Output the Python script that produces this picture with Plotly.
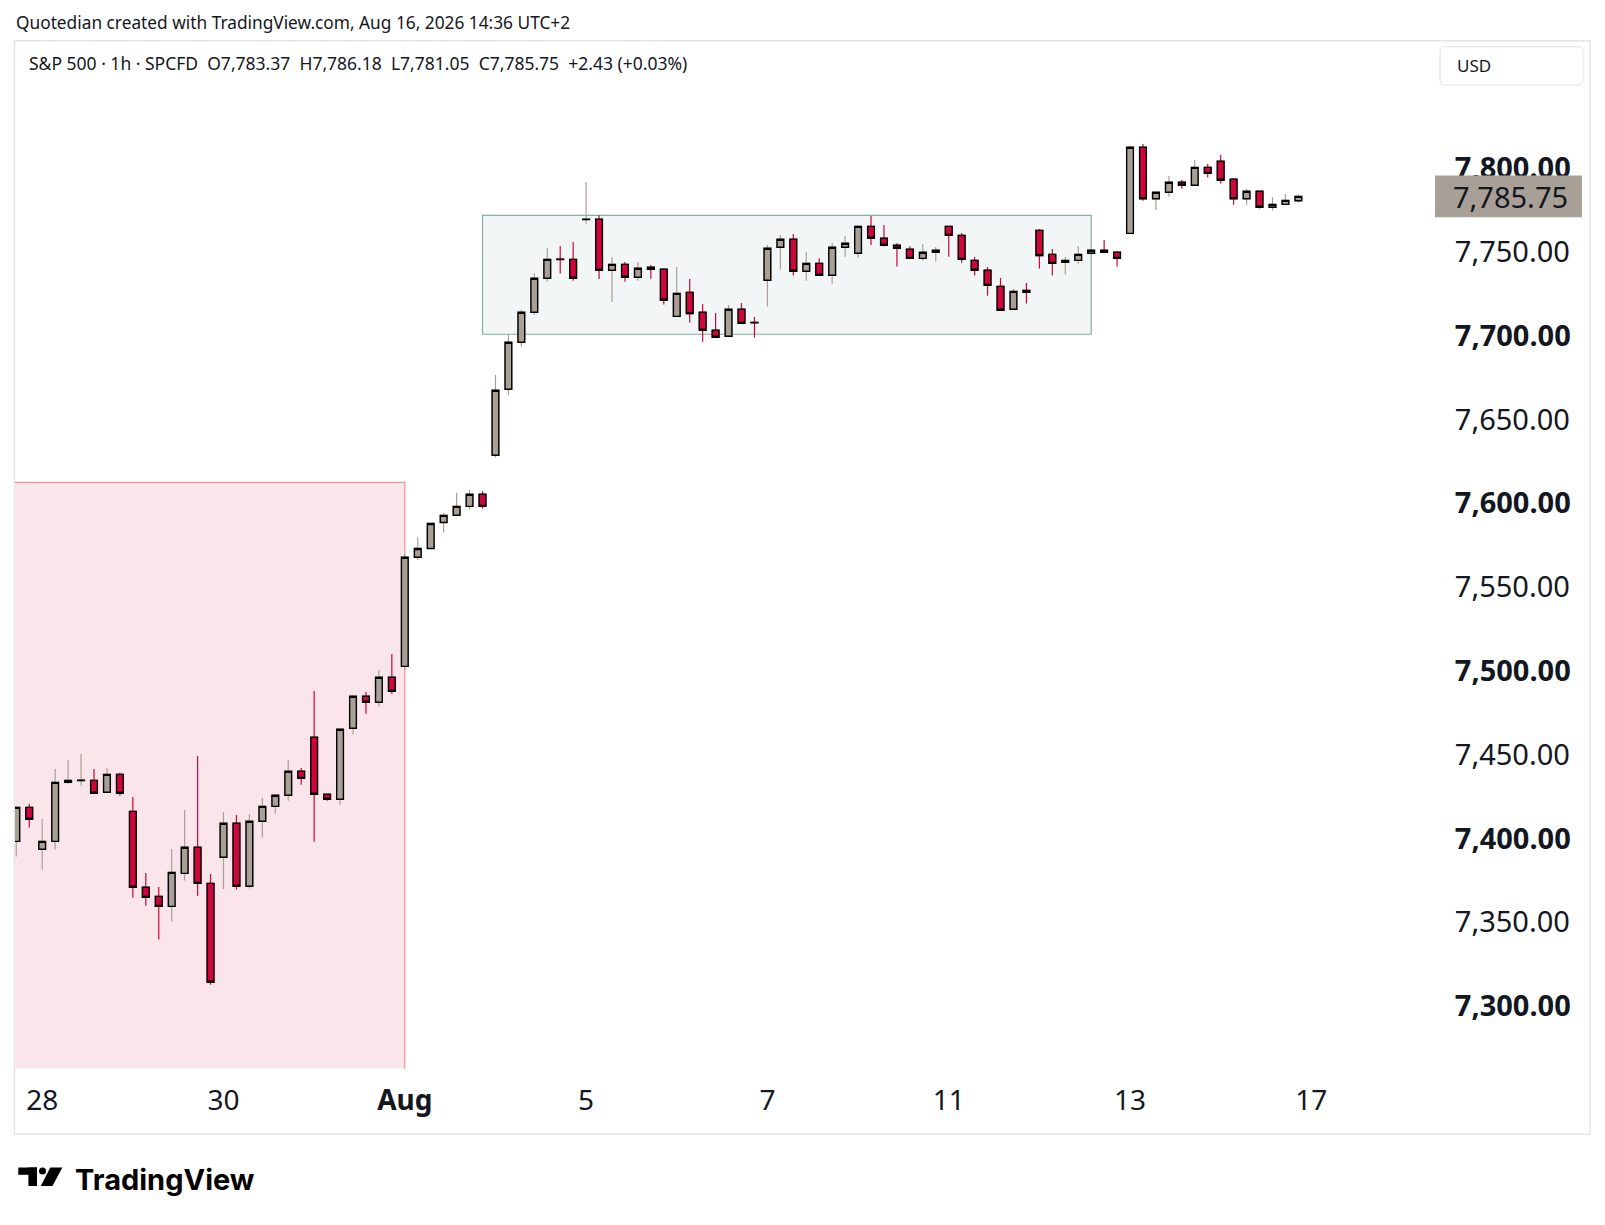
import plotly.graph_objects as go

W, H = 1605, 1225

# S&P 500 1h bars (cash session, 7 bars a day): last two of Jul 27, then Jul 28 .. Aug 14
bar_open = [
    7398.2, 7418.5,
    7393.5, 7398.2, 7433.4, 7434.5, 7434.6, 7427.5, 7438.2,
    7416.1, 7370.8, 7365.4, 7359.4, 7379.1, 7394.7, 7373.1,
    7388.7, 7409.0, 7371.4, 7410.2, 7419.1, 7425.7, 7440.0,
    7460.3, 7426.3, 7423.3, 7465.7, 7484.8, 7481.2, 7496.1,
    7502.6, 7567.7, 7573.0, 7588.5, 7592.8, 7598.1, 7605.3,
    7628.6, 7668.0, 7696.0, 7713.9, 7734.2, 7745.6, 7745.5,
    7769.3, 7769.4, 7739.0, 7742.5, 7734.8, 7740.8, 7739.6,
    7711.5, 7725.8, 7713.9, 7703.2, 7699.6, 7715.7, 7707.9,
    7733.0, 7752.7, 7757.5, 7738.4, 7743.1, 7736.0, 7752.7,
    7749.1, 7765.2, 7758.1, 7753.9, 7751.5, 7746.1, 7749.7,
    7765.2, 7759.8, 7744.9, 7739.0, 7729.4, 7715.7, 7727.0,
    7762.8, 7748.5, 7743.7, 7744.9, 7749.1, 7750.9, 7749.7,
    7761.0, 7812.4, 7781.7, 7785.5, 7791.5, 7789.7, 7800.4,
    7804.0, 7793.3, 7781.7, 7786.1, 7776.6, 7778.3, 7780.5,
]
bar_high = [
    7419.3, 7420.5,
    7411.6, 7441.4, 7446.8, 7450.3, 7441.4, 7442.0, 7439.2,
    7424.7, 7379.3, 7371.0, 7393.7, 7416.9, 7449.2, 7378.7,
    7415.7, 7413.9, 7414.5, 7424.1, 7426.5, 7446.8, 7442.0,
    7487.9, 7426.3, 7465.9, 7485.6, 7487.3, 7500.5, 7510.0,
    7570.0, 7579.7, 7588.2, 7594.1, 7606.3, 7607.9, 7607.3,
    7676.5, 7701.0, 7715.3, 7737.4, 7752.3, 7753.5, 7755.9,
    7791.7, 7771.8, 7746.9, 7743.9, 7743.9, 7742.1, 7740.4,
    7741.0, 7733.8, 7718.9, 7713.5, 7718.3, 7719.5, 7711.1,
    7754.1, 7760.0, 7760.6, 7749.9, 7746.1, 7755.3, 7759.4,
    7766.0, 7771.4, 7766.0, 7755.1, 7753.3, 7754.7, 7752.9,
    7765.2, 7761.2, 7746.9, 7741.0, 7734.4, 7727.8, 7731.4,
    7763.6, 7751.7, 7746.9, 7753.5, 7750.9, 7757.1, 7750.5,
    7813.4, 7814.3, 7785.5, 7795.3, 7792.9, 7804.8, 7802.4,
    7807.8, 7794.1, 7787.5, 7786.1, 7782.7, 7784.5, 7784.2,
]
bar_low = [
    7389.1, 7406.4,
    7381.3, 7393.3, 7432.4, 7431.4, 7426.9, 7427.5, 7425.5,
    7364.6, 7359.8, 7339.6, 7350.3, 7374.8, 7365.8, 7312.7,
    7369.8, 7369.4, 7370.0, 7400.4, 7414.7, 7422.5, 7432.0,
    7398.0, 7422.5, 7420.1, 7461.9, 7474.4, 7478.6, 7486.3,
    7500.5, 7566.1, 7572.8, 7582.5, 7592.8, 7596.2, 7596.7,
    7627.2, 7664.2, 7693.4, 7712.5, 7732.2, 7737.0, 7732.8,
    7766.8, 7733.8, 7720.1, 7732.2, 7732.8, 7734.0, 7718.5,
    7711.5, 7707.7, 7696.4, 7699.0, 7699.6, 7707.3, 7698.8,
    7717.3, 7739.4, 7735.8, 7732.8, 7736.0, 7731.0, 7747.1,
    7746.5, 7754.1, 7753.1, 7741.2, 7746.1, 7744.7, 7744.1,
    7747.1, 7743.5, 7735.8, 7723.8, 7715.1, 7715.7, 7719.1,
    7740.0, 7735.8, 7736.4, 7742.9, 7749.1, 7749.1, 7741.2,
    7761.0, 7780.5, 7775.0, 7782.9, 7787.7, 7789.7, 7794.3,
    7790.7, 7778.1, 7778.1, 7775.8, 7774.6, 7778.3, 7779.3,
]
bar_close = [
    7418.5, 7411.4,
    7398.2, 7433.4, 7434.6, 7434.7, 7426.9, 7438.2, 7426.9,
    7370.8, 7364.8, 7359.4, 7379.7, 7394.7, 7373.1, 7314.1,
    7409.0, 7371.4, 7410.2, 7419.1, 7425.7, 7440.0, 7435.8,
    7426.3, 7423.3, 7465.1, 7484.8, 7481.2, 7496.1, 7487.7,
    7567.7, 7573.0, 7587.9, 7592.7, 7598.1, 7605.3, 7598.1,
    7667.4, 7696.0, 7713.9, 7734.2, 7745.5, 7745.4, 7734.2,
    7769.5, 7739.0, 7742.5, 7734.8, 7740.2, 7739.6, 7721.1,
    7725.2, 7713.1, 7703.2, 7699.0, 7715.7, 7707.3, 7707.7,
    7752.1, 7757.5, 7738.4, 7743.1, 7736.0, 7752.7, 7755.1,
    7765.2, 7758.1, 7753.9, 7752.1, 7746.1, 7749.7, 7750.9,
    7759.8, 7745.5, 7739.0, 7730.0, 7715.1, 7726.4, 7725.8,
    7747.7, 7743.1, 7744.9, 7748.5, 7750.9, 7749.7, 7746.1,
    7812.4, 7781.7, 7785.5, 7791.5, 7789.7, 7800.4, 7796.8,
    7792.7, 7781.7, 7786.1, 7776.6, 7778.3, 7780.7, 7783.1,
]

# day labels sit on the first bar of each day
date_ticks = [2, 16, 30, 44, 58, 72, 86, 100]
date_labels = ["28", "30", "<b>Aug</b>", "5", "7", "11", "13", "17"]

price_ticks = [7300, 7350, 7400, 7450, 7500, 7550, 7600, 7650, 7700, 7750, 7800]

# drawings on the chart
pink_zone_right = 30
pink_zone_top = 7612.4
range_box_x = [36, 83]
range_box_y = [7700.8, 7771.8]

title_text = "Quotedian created with TradingView.com, Aug 16, 2026 14:36 UTC+2"
legend_text = ("S&P 500 · 1h · SPCFD&nbsp;&nbsp;O7,783.37&nbsp;&nbsp;H7,786.18&nbsp;&nbsp;"
               "L7,781.05&nbsp;&nbsp;C7,785.75&nbsp;&nbsp;+2.43 (+0.03%)")
last_price_text = "7,785.75"

UP = "#a8a097"
DOWN = "#cf053d"
INK = "#131722"
FONT = "Noto Sans"


def px(x, y):
    return x / W, 1 - y / H


def price_label(v):
    s = f"{v:,.2f}"
    return f"<b>{s}</b>" if v % 100 == 0 else s


x = list(range(len(bar_open)))
body_top = [max(o, c) for o, c in zip(bar_open, bar_close)]
body_bot = [min(o, c) for o, c in zip(bar_open, bar_close)]

fig = go.Figure()

# wicks
fig.add_trace(go.Candlestick(
    x=x, open=bar_open, high=bar_high, low=bar_low, close=bar_close,
    increasing=dict(line=dict(color=UP, width=1.2), fillcolor=UP),
    decreasing=dict(line=dict(color=DOWN, width=1.2), fillcolor=DOWN),
    whiskerwidth=0, hoverinfo="skip",
))
# bodies with black outline
fig.add_trace(go.Candlestick(
    x=x, open=bar_open, high=body_top, low=body_bot, close=bar_close,
    increasing=dict(line=dict(color="#000000", width=1.4), fillcolor=UP),
    decreasing=dict(line=dict(color="#000000", width=1.4), fillcolor=DOWN),
    whiskerwidth=0, hoverinfo="skip",
))

shapes = []
# outer frame
fx0, fy0 = px(14.5, 40.7)
fx1, fy1 = px(1590, 1134.3)
shapes.append(dict(type="rect", xref="paper", yref="paper", x0=fx0, y0=fy1, x1=fx1, y1=fy0,
                   line=dict(color="#e4e4e4", width=1.5), fillcolor="rgba(0,0,0,0)", layer="below"))
# pink zone (left part is clipped by the plot area)
shapes.append(dict(type="rect", xref="x", yref="y", x0=-5, x1=pink_zone_right, y0=7000, y1=pink_zone_top,
                   fillcolor="#fae5ea", line=dict(color="#f0919f", width=1.2), layer="below"))
# consolidation box
shapes.append(dict(type="rect", xref="x", yref="y", x0=range_box_x[0], x1=range_box_x[1],
                   y0=range_box_y[0], y1=range_box_y[1],
                   fillcolor="#f2f6f6", line=dict(color="#84aea2", width=1.2), layer="below"))
# last price tag
lx0, _ = px(1435, 0)
lx1, _ = px(1582, 0)
shapes.append(dict(type="rect", xref="paper", yref="y", x0=lx0, x1=lx1,
                   y0=bar_close[-1] - 12.45, y1=bar_close[-1] + 12.45,
                   fillcolor=UP, line=dict(width=0), layer="above"))


# USD box with rounded corners
def rounded(x0, y0, x1, y1, r):
    a = px
    p = "M {} {} ".format(*a(x0 + r, y0))
    p += "L {} {} ".format(*a(x1 - r, y0))
    p += "Q {} {} {} {} ".format(*a(x1, y0), *a(x1, y0 + r))
    p += "L {} {} ".format(*a(x1, y1 - r))
    p += "Q {} {} {} {} ".format(*a(x1, y1), *a(x1 - r, y1))
    p += "L {} {} ".format(*a(x0 + r, y1))
    p += "Q {} {} {} {} ".format(*a(x0, y1), *a(x0, y1 - r))
    p += "L {} {} ".format(*a(x0, y0 + r))
    p += "Q {} {} {} {} Z".format(*a(x0, y0), *a(x0 + r, y0))
    return p


shapes.append(dict(type="path", xref="paper", yref="paper", path=rounded(1440, 46.7, 1583, 85, 5),
                   line=dict(color="#e0e3eb", width=1), fillcolor="white", layer="above"))

# TradingView logo mark
t0x, t0y = px(18.3, 1167.5)
t1x, t1y = px(37.0, 1174.8)
shapes.append(dict(type="rect", xref="paper", yref="paper", x0=t0x, y0=t1y, x1=t1x, y1=t0y,
                   fillcolor="#000000", line=dict(width=0)))
s0x, s0y = px(28.4, 1167.5)
s1x, s1y = px(37.0, 1186.0)
shapes.append(dict(type="rect", xref="paper", yref="paper", x0=s0x, y0=s1y, x1=s1x, y1=s0y,
                   fillcolor="#000000", line=dict(width=0)))
c0x, c0y = px(39.0, 1167.6)
c1x, c1y = px(46.0, 1174.6)
shapes.append(dict(type="circle", xref="paper", yref="paper", x0=c0x, y0=c1y, x1=c1x, y1=c0y,
                   fillcolor="#000000", line=dict(width=0)))
slash = "M {} {} L {} {} L {} {} L {} {} Z".format(
    *px(50.3, 1167.5), *px(62.3, 1167.5), *px(52.5, 1186.0), *px(40.8, 1186.0))
shapes.append(dict(type="path", xref="paper", yref="paper", path=slash,
                   fillcolor="#000000", line=dict(width=0)))

annotations = []
ax_, ay_ = px(14, 22.5)
annotations.append(dict(text=title_text, x=ax_, y=ay_, xref="paper", yref="paper",
                        xanchor="left", yanchor="middle", showarrow=False,
                        font=dict(family=FONT, size=17.3, color=INK)))
ax_, ay_ = px(27, 63.5)
annotations.append(dict(text=legend_text, x=ax_, y=ay_, xref="paper", yref="paper",
                        xanchor="left", yanchor="middle", showarrow=False,
                        font=dict(family=FONT, size=17.5, color=INK)))
ax_, ay_ = px(1455, 66)
annotations.append(dict(text="USD", x=ax_, y=ay_, xref="paper", yref="paper",
                        xanchor="left", yanchor="middle", showarrow=False,
                        font=dict(family=FONT, size=17, color=INK)))
ax_, _ = px(1451, 0)
annotations.append(dict(text=last_price_text, x=ax_, y=bar_close[-1], xref="paper", yref="y",
                        xanchor="left", yanchor="middle", showarrow=False,
                        font=dict(family=FONT, size=29, color=INK)))
ax_, ay_ = px(73, 1179)
annotations.append(dict(text="<b>TradingView</b>", x=ax_, y=ay_, xref="paper", yref="paper",
                        xanchor="left", yanchor="middle", showarrow=False,
                        font=dict(family="Inter", size=29, color="#000000")))

fig.update_layout(
    template="none",
    width=W, height=H,
    margin=dict(l=0, r=0, t=0, b=0),
    paper_bgcolor="white", plot_bgcolor="white",
    showlegend=False,
    boxgap=0.48, boxgroupgap=0,
    shapes=shapes,
    annotations=annotations,
    xaxis=dict(
        domain=[15 / W, 1435 / W], range=[-0.1, 109.55],
        tickmode="array", tickvals=date_ticks, ticktext=date_labels,
        ticks="outside", ticklen=7, tickcolor="rgba(0,0,0,0)",
        tickfont=dict(family=FONT, size=28, color=INK),
        showgrid=False, zeroline=False, showline=False, automargin=False,
        rangeslider=dict(visible=False),
    ),
    yaxis=dict(
        domain=[1 - 1068.6 / H, 1 - 41 / H], range=[7262.6, 7875.8],
        side="right",
        tickmode="array", tickvals=price_ticks, ticktext=[price_label(v) for v in price_ticks],
        ticks="outside", ticklen=13, tickcolor="rgba(0,0,0,0)",
        tickfont=dict(family=FONT, size=29, color=INK),
        showgrid=False, zeroline=False, showline=False, automargin=False,
    ),
)

fig.write_html("out.html", config={"displayModeBar": False},
               post_script="document.body.style.margin='0px';")
